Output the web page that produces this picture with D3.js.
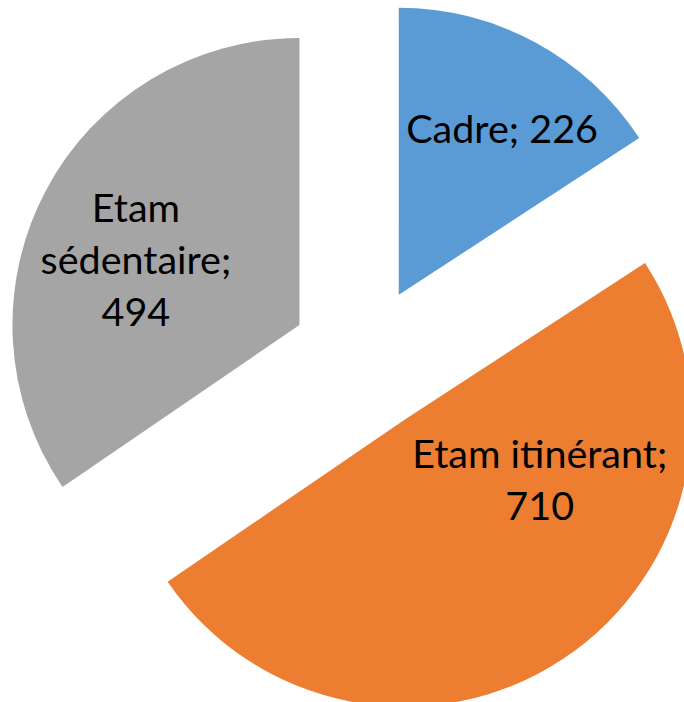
<!DOCTYPE html>
<html>
<head>
<meta charset="utf-8">
<script src="https://cdn.jsdelivr.net/npm/d3@7/dist/d3.min.js"></script>
<style>
  html, body { margin: 0; padding: 0; background: #fff; }
  svg { display: block; }
</style>
</head>
<body>
<script>
// data
var categories = ["Cadre", "Etam itinérant", "Etam sédentaire"];
var values = [226, 710, 494];
var colors = ["#5B9BD5", "#ED7D31", "#A5A5A5"];
// label lines as shown in the chart
var labelLines = [["Cadre; 226"], ["Etam itinérant;", "710"], ["Etam", "sédentaire;", "494"]];

var w = 684, h = 702;
var cx = 364, cy = 359;
var r = 287;
var explode = 73;
// label placement relative to each slice's tip: [angle in degrees, distance]
var labelPolar = [[32, 195], [114, 148], [291.7, 176]];

var svg = d3.select("body").append("svg").attr("width", w).attr("height", h);

var pie = d3.pie().sort(null).value(function (d) { return d; });
var arcs = pie(values);
var arc = d3.arc().innerRadius(0).outerRadius(r);

var g = svg.append("g").attr("transform", "translate(" + cx + "," + cy + ")");

var slices = g.selectAll("g.slice")
  .data(arcs)
  .enter()
  .append("g")
  .attr("class", "slice")
  .attr("transform", function (d) {
    var a = (d.startAngle + d.endAngle) / 2;
    return "translate(" + (explode * Math.sin(a)) + "," + (-explode * Math.cos(a)) + ")";
  });

slices.append("path")
  .attr("d", arc)
  .attr("fill", function (d, i) { return colors[i]; });

var lineH = 52;
slices.each(function (d, i) {
  var a = labelPolar[i][0] * Math.PI / 180, dist = labelPolar[i][1];
  var x = dist * Math.sin(a), y = -dist * Math.cos(a);
  var lines = labelLines[i];
  var t = d3.select(this).append("text")
    .attr("text-anchor", "middle")
    .attr("font-family", "Lato, 'Open Sans', sans-serif")
    .attr("font-size", 39.5)
    .attr("fill", "#000");
  lines.forEach(function (s, k) {
    t.append("tspan")
      .attr("x", x)
      .attr("y", y + (k - (lines.length - 1) / 2) * lineH + 14)
      .text(s);
  });
});
</script>
</body>
</html>
